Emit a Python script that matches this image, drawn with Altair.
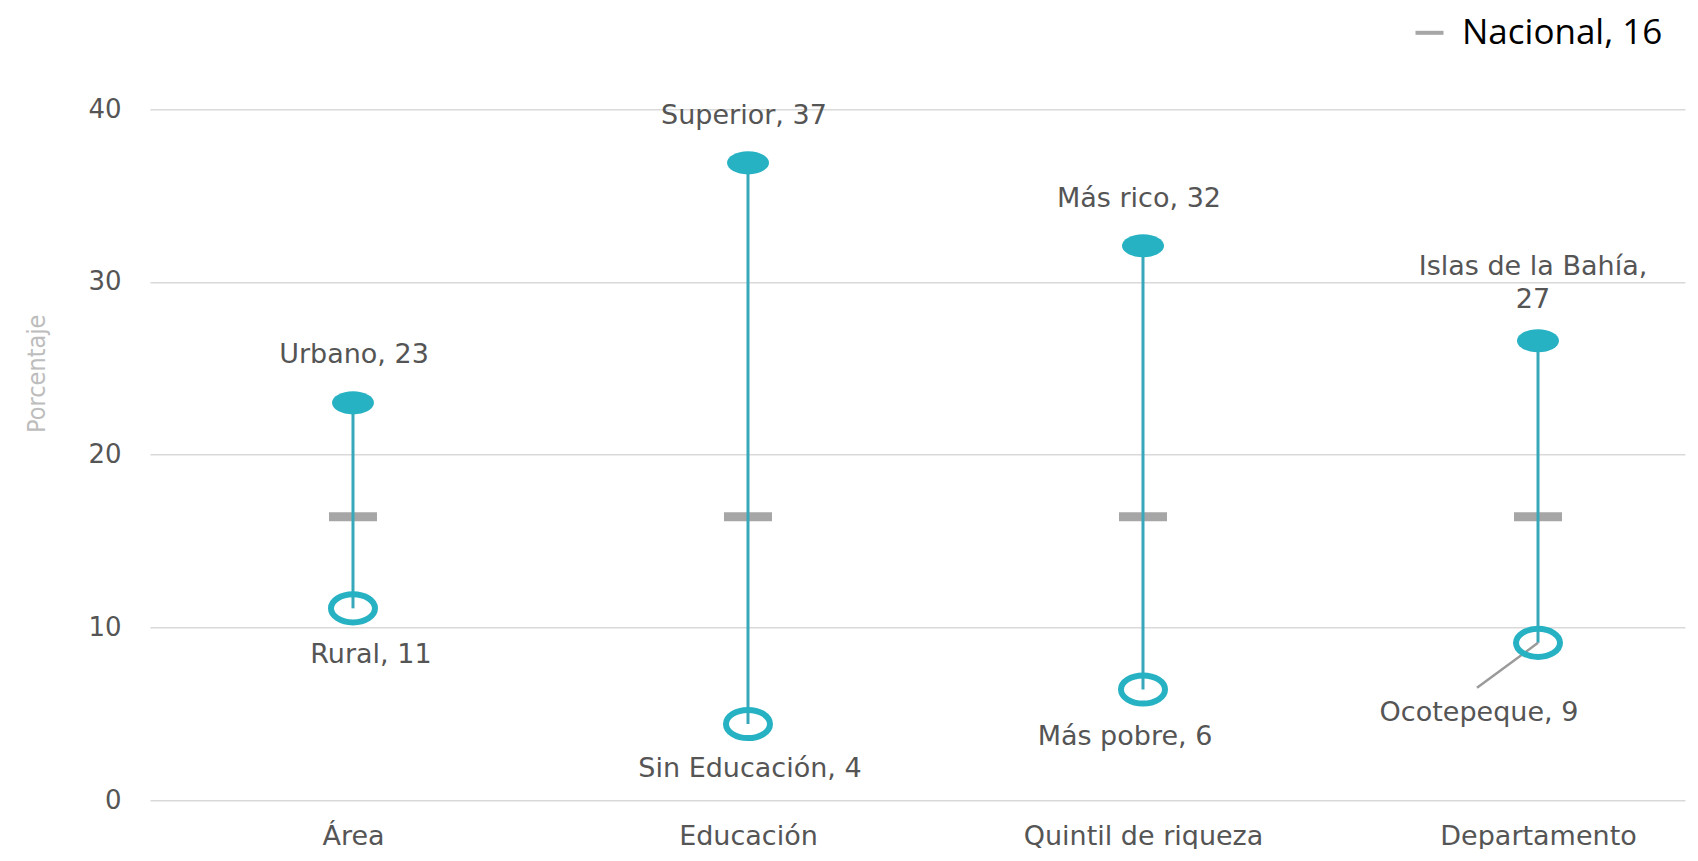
import altair as alt
import pandas as pd

# ---- data ----
categorias = ["Área", "Educación", "Quintil de riqueza", "Departamento"]
valor_alto = [23.0, 36.9, 32.1, 26.6]
valor_bajo = [11.1, 4.4, 6.4, 9.1]
valor_nacional = [16.4, 16.4, 16.4, 16.4]
etiqueta_alto = ["Urbano, 23", "Superior, 37", "Más rico, 32", "Islas de la Bahía,\n27"]
etiqueta_bajo = ["Rural, 11", "Sin Educación, 4", "Más pobre, 6", "Ocotepeque, 9"]
serie_nacional = "Nacional, 16"
ticks_y = [0, 10, 20, 30, 40]

df = pd.DataFrame({
    "cat": categorias,
    "alto": valor_alto,
    "bajo": valor_bajo,
    "nacional": valor_nacional,
    "etq_alto": etiqueta_alto,
    "etq_bajo": etiqueta_bajo,
    "serie": [serie_nacional] * len(categorias),
})

# ---- styles ----
TEAL = "#27b2c3"
STEM = "#36a8b9"
GRAY = "#a6a6a6"
TXT = "#555555"
FONT = "DejaVu Sans"
LBL_SIZE = 27

ELL_FILL = "M -1 0 A 1 0.55 0 1 1 1 0 A 1 0.55 0 1 1 -1 0 Z"
ELL_RING = "M -1 0 A 1 0.64 0 1 1 1 0 A 1 0.64 0 1 1 -1 0 Z"

# label offsets (dx, dy, baseline) in pixels
off_alto = [(1, -48, "middle"), (-4, -47, "middle"), (-4, -47, "middle"), (-5, -60, "bottom")]
off_bajo = [(18, 47, "middle"), (2, 45, "middle"), (-18, 48, "middle"), (-59, 70, "middle")]

x_enc = alt.X(
    "cat:N",
    sort=categorias,
    scale=alt.Scale(type="point", domain=categorias, padding=0.443, align=0.58),
    axis=alt.Axis(
        title=None, domain=False, ticks=False, tickSize=0, grid=False,
        labelAngle=0, labelFont=FONT, labelFontSize=27, labelColor=TXT,
        labelPadding=23, labelBaseline="top", labelLimit=600,
    ),
)

y_axis = alt.Axis(
    values=ticks_y, title="Porcentaje", grid=True, gridColor="#d9d9d9", gridWidth=1.5,
    domain=False, ticks=False, tickSize=0, labelPadding=29,
    labelFont=FONT, labelFontSize=26, labelColor=TXT,
    titleFont="Liberation Sans Narrow, DejaVu Sans Condensed, Liberation Sans",
    titleFontSize=25, titleColor="#bdbdbd", titleFontWeight="normal",
    titleAngle=270, titleX=-114, titleY=264, titleAlign="center", titleBaseline="middle",
)


def yenc(field):
    return alt.Y(f"{field}:Q", scale=alt.Scale(domain=[0, 40], nice=False, zero=True), axis=y_axis)


base = alt.Chart(df)

nacional = base.mark_rule(strokeWidth=9, xOffset=-24, x2Offset=24).encode(
    x=x_enc,
    x2=alt.X2("cat:N"),
    y=yenc("nacional"),
    color=alt.Color(
        "serie:N",
        scale=alt.Scale(range=[GRAY]),
        legend=alt.Legend(
            title=None, orient="none", legendX=1262, legendY=-94,
            symbolType="stroke", symbolSize=784, symbolStrokeWidth=4,
            labelFont="Open Sans", labelFontSize=35, labelColor="black",
            labelOffset=15, padding=0, labelLimit=400,
        ),
    ),
)

stem = base.mark_rule(color=STEM, strokeWidth=3).encode(
    x=x_enc, y=yenc("bajo"), y2=alt.Y2("alto:Q")
)

guia = base.transform_filter(alt.datum.cat == "Departamento").mark_rule(
    color="#9a9a9a", strokeWidth=2.5, x2Offset=-61, y2Offset=45
).encode(x=x_enc, y=yenc("bajo"), x2=alt.X2("cat:N"), y2=alt.Y2("bajo:Q"))

dots = base.mark_point(
    shape=ELL_FILL, size=1764, filled=True, color=TEAL, opacity=1
).encode(x=x_enc, y=yenc("alto"))

rings = base.mark_point(
    shape=ELL_RING, size=1936, filled=False, color=TEAL, strokeWidth=6, opacity=1
).encode(x=x_enc, y=yenc("bajo"))

textos = []
for cat, (dx, dy, bl) in zip(categorias, off_alto):
    textos.append(
        base.transform_filter(alt.datum.cat == cat).mark_text(
            font=FONT, fontSize=LBL_SIZE, color=TXT, dx=dx, dy=dy, baseline=bl,
            align="center", lineBreak="\n", lineHeight=33,
        ).encode(x=x_enc, y=yenc("alto"), text="etq_alto:N")
    )
for cat, (dx, dy, bl) in zip(categorias, off_bajo):
    textos.append(
        base.transform_filter(alt.datum.cat == cat).mark_text(
            font=FONT, fontSize=LBL_SIZE, color=TXT, dx=dx, dy=dy, baseline=bl,
            align="center", lineBreak="\n", lineHeight=33,
        ).encode(x=x_enc, y=yenc("bajo"), text="etq_bajo:N")
    )

chart = alt.layer(nacional, stem, guia, dots, rings, *textos).properties(
    width=1535,
    height=690.7,
    padding={"left": 142, "top": 101.3, "right": 5, "bottom": 49},
    autosize=alt.AutoSizeParams(type="none"),
    background="white",
).configure_view(stroke=None)

chart.save("out.html", embed_options={"renderer": "svg", "actions": False})
